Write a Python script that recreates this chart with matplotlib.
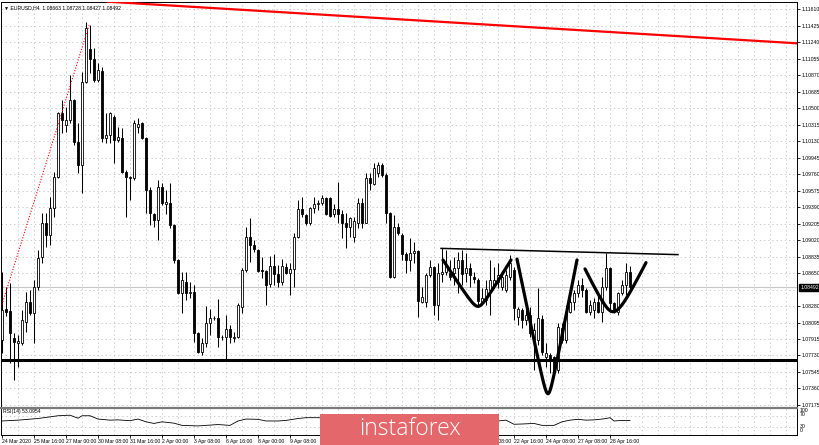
import matplotlib
matplotlib.use('Agg')
import matplotlib.pyplot as plt
import matplotlib.transforms as mtransforms
from matplotlib import font_manager
from matplotlib.patches import Rectangle
import numpy as np

installed = {f.name for f in font_manager.fontManager.ttflist}
small = 'Liberation Sans Narrow' if 'Liberation Sans Narrow' in installed else 'Liberation Sans'
plt.rcParams['font.family'] = [small, 'DejaVu Sans']

# EURUSD H4 candles (first bar 24 Mar 2020 08:00)
opens = [1.0790, 1.0825, 1.0823, 1.0793, 1.0787, 1.0787, 1.0810, 1.0833, 1.0820, 1.0850,
         1.0883, 1.0921, 1.0908, 1.0938, 1.0973, 1.1045, 1.1031, 1.1037, 1.1059, 1.1012,
         1.0986, 1.1079, 1.1117, 1.1105, 1.1082, 1.1092, 1.1017, 1.1020, 1.1040, 1.1014,
         1.1017, 1.0979, 1.0972, 1.0972, 1.1029, 1.1034, 1.1017, 1.0958, 1.0931, 1.0925,
         1.0962, 1.0943, 1.0944, 1.0919, 1.0880, 1.0843, 1.0855, 1.0843, 1.0844, 1.0798,
         1.0777, 1.0787, 1.0809, 1.0815, 1.0815, 1.0794, 1.0794, 1.0803, 1.0793, 1.0794,
         1.0827, 1.0869, 1.0906, 1.0897, 1.0891, 1.0869, 1.0868, 1.0853, 1.0873, 1.0864,
         1.0855, 1.0872, 1.0865, 1.0870, 1.0906, 1.0937, 1.0930, 1.0922, 1.0938, 1.0943,
         1.0944, 1.0949, 1.0949, 1.0931, 1.0937, 1.0931, 1.0922, 1.0917, 1.0906, 1.0922,
         1.0944, 1.0922, 1.0972, 1.0965, 1.0977, 1.0986, 1.0975, 1.0933, 1.0861, 1.0917,
         1.0908, 1.0887, 1.0880, 1.0888, 1.0890, 1.0833, 1.0833, 1.0863, 1.0872, 1.0830,
         1.0864, 1.0866, 1.0865, 1.0865, 1.0871, 1.0880, 1.0865, 1.0871, 1.0861, 1.0858,
         1.0833, 1.0835, 1.0846, 1.0852, 1.0855, 1.0850, 1.0846, 1.0861, 1.0869, 1.0816,
         1.0824, 1.0813, 1.0818, 1.0790, 1.0790, 1.0814, 1.0771, 1.0774, 1.0771, 1.0757,
         1.0804, 1.0790, 1.0822, 1.0833, 1.0843, 1.0852, 1.0846, 1.0822, 1.0824, 1.0833,
         1.0822, 1.0850, 1.0871, 1.0832, 1.0822, 1.0843, 1.0852, 1.08663]
highs = [1.0867, 1.0850, 1.0854, 1.0798, 1.0796, 1.0824, 1.0844, 1.0846, 1.0858, 1.0891,
         1.0933, 1.0933, 1.0951, 1.0979, 1.1046, 1.1059, 1.1051, 1.1087, 1.1061, 1.1034,
         1.1091, 1.1147, 1.1143, 1.1118, 1.1101, 1.1096, 1.1045, 1.1046, 1.1042, 1.1029,
         1.1028, 1.0981, 1.0974, 1.1037, 1.1039, 1.1035, 1.1018, 1.0962, 1.0933, 1.0970,
         1.0966, 1.0958, 1.0966, 1.0920, 1.0881, 1.0866, 1.0866, 1.0855, 1.0852, 1.0799,
         1.0793, 1.0828, 1.0825, 1.0817, 1.0836, 1.0796, 1.0818, 1.0807, 1.0799, 1.0832,
         1.0871, 1.0917, 1.0927, 1.0902, 1.0892, 1.0883, 1.0869, 1.0884, 1.0887, 1.0874,
         1.0881, 1.0877, 1.0877, 1.0910, 1.0947, 1.0951, 1.0931, 1.0939, 1.0951, 1.0947,
         1.0953, 1.0951, 1.0951, 1.0943, 1.0967, 1.0936, 1.0933, 1.0928, 1.0928, 1.0949,
         1.0949, 1.0977, 1.0977, 1.0989, 1.0990, 1.0989, 1.0977, 1.0934, 1.0930, 1.0921,
         1.0910, 1.0889, 1.0905, 1.0900, 1.0891, 1.0850, 1.0865, 1.0880, 1.0873, 1.0877,
         1.0893, 1.0891, 1.0880, 1.0883, 1.0889, 1.0891, 1.0888, 1.0877, 1.0866, 1.0860,
         1.0849, 1.0858, 1.0880, 1.0872, 1.0877, 1.0865, 1.0869, 1.0886, 1.0872, 1.0827,
         1.0826, 1.0824, 1.0827, 1.0809, 1.0849, 1.0818, 1.0787, 1.0776, 1.0772, 1.0809,
         1.0809, 1.0830, 1.0837, 1.0846, 1.0858, 1.0860, 1.0849, 1.0835, 1.0837, 1.0841,
         1.0861, 1.0888, 1.0872, 1.0833, 1.0844, 1.0858, 1.0877, 1.08728]
lows = [1.0776, 1.0817, 1.0764, 1.0745, 1.0760, 1.0785, 1.0799, 1.0818, 1.0787, 1.0846,
        1.0877, 1.0894, 1.0897, 1.0928, 1.0972, 1.1022, 1.1024, 1.1034, 1.1009, 1.0977,
        1.0955, 1.1078, 1.1090, 1.1079, 1.1079, 1.1012, 1.1011, 1.1011, 1.0989, 1.1012,
        1.0977, 1.0928, 1.0947, 1.0970, 1.1022, 1.1016, 1.0933, 1.0919, 1.0917, 1.0902,
        1.0942, 1.0931, 1.0916, 1.0877, 1.0842, 1.0820, 1.0835, 1.0837, 1.0788, 1.0776,
        1.0774, 1.0782, 1.0796, 1.0813, 1.0782, 1.0790, 1.0769, 1.0787, 1.0788, 1.0793,
        1.0820, 1.0866, 1.0878, 1.0889, 1.0866, 1.0860, 1.0830, 1.0850, 1.0852, 1.0850,
        1.0852, 1.0864, 1.0841, 1.0850, 1.0905, 1.0928, 1.0919, 1.0919, 1.0933, 1.0936,
        1.0942, 1.0930, 1.0928, 1.0928, 1.0921, 1.0905, 1.0893, 1.0906, 1.0900, 1.0916,
        1.0916, 1.0921, 1.0958, 1.0964, 1.0973, 1.0973, 1.0921, 1.0860, 1.0860, 1.0908,
        1.0880, 1.0865, 1.0868, 1.0877, 1.0816, 1.0832, 1.0827, 1.0861, 1.0818, 1.0813,
        1.0855, 1.0863, 1.0858, 1.0852, 1.0843, 1.0852, 1.0855, 1.0850, 1.0854, 1.0827,
        1.0832, 1.0830, 1.0818, 1.0849, 1.0849, 1.0846, 1.0844, 1.0858, 1.0813, 1.0807,
        1.0804, 1.0807, 1.0794, 1.0757, 1.0785, 1.0774, 1.0760, 1.0753, 1.0755, 1.0753,
        1.0787, 1.0787, 1.0820, 1.0824, 1.0838, 1.0838, 1.0820, 1.0818, 1.0815, 1.0820,
        1.0810, 1.0846, 1.0822, 1.0820, 1.0818, 1.0841, 1.0841, 1.08427]
closes = [1.0824, 1.0822, 1.0798, 1.0788, 1.0789, 1.0813, 1.0833, 1.0820, 1.0850, 1.0882,
          1.0921, 1.0908, 1.0938, 1.0973, 1.1045, 1.1037, 1.1037, 1.1059, 1.1012, 1.0986,
          1.1079, 1.1140, 1.1105, 1.1082, 1.1093, 1.1017, 1.1020, 1.1045, 1.1014, 1.1018,
          1.0979, 1.0973, 1.0973, 1.1034, 1.1032, 1.1017, 1.0958, 1.0933, 1.0925, 1.0962,
          1.0944, 1.0945, 1.0919, 1.0880, 1.0843, 1.0858, 1.0843, 1.0844, 1.0798, 1.0777,
          1.0787, 1.0809, 1.0815, 1.0815, 1.0794, 1.0794, 1.0803, 1.0794, 1.0794, 1.0830,
          1.0869, 1.0906, 1.0897, 1.0892, 1.0868, 1.0868, 1.0852, 1.0873, 1.0864, 1.0855,
          1.0873, 1.0865, 1.0870, 1.0906, 1.0937, 1.0931, 1.0922, 1.0938, 1.0943, 1.0944,
          1.0949, 1.0931, 1.0929, 1.0937, 1.0931, 1.0922, 1.0917, 1.0927, 1.0924, 1.0944,
          1.0922, 1.0972, 1.0966, 1.0983, 1.0986, 1.0975, 1.0933, 1.0861, 1.0917, 1.0910,
          1.0887, 1.0880, 1.0888, 1.0890, 1.0834, 1.0839, 1.0863, 1.0872, 1.0830, 1.0865,
          1.0866, 1.0874, 1.0861, 1.0871, 1.0880, 1.0864, 1.0871, 1.0863, 1.0859, 1.0834,
          1.0837, 1.0847, 1.0858, 1.0858, 1.0863, 1.0861, 1.0863, 1.0877, 1.0826, 1.0825,
          1.0813, 1.0818, 1.0798, 1.0802, 1.0815, 1.0777, 1.0776, 1.0768, 1.0757, 1.0805,
          1.0790, 1.0822, 1.0833, 1.0843, 1.0852, 1.0846, 1.0822, 1.0830, 1.0833, 1.0822,
          1.0850, 1.0871, 1.0832, 1.0822, 1.0843, 1.0852, 1.0866, 1.08492]

# RSI(14) line, read at a sparse set of bars
rsi_bar = [0, 4, 9, 14, 17, 19, 20, 22, 24, 27, 29, 32, 34, 36, 38, 40, 43, 45, 49, 51,
           54, 57, 59, 61, 64, 66, 69, 71, 74, 76, 79, 82, 86, 90, 94, 98, 102, 106, 110, 114,
           118, 122, 124, 126, 128, 130, 133, 135, 138, 140, 142, 144, 146, 148, 150, 151, 152, 153, 155, 157]
rsi_val = [51, 54, 60, 70, 72, 61, 70, 70, 58, 54, 55, 52, 58, 48, 42, 48, 43, 35, 33, 35,
           38, 35, 51, 58, 57, 51, 51, 53, 60, 63, 63, 60, 55, 60, 66, 42, 45, 35, 48, 50,
           48, 47, 51, 54, 39, 40, 42, 35, 35, 48, 54, 57, 54, 55, 58, 60, 63, 51, 53, 53.1]

# one time label every 8 bars; the ones under the watermark are not visible
time_labels = ['24 Mar 2020', '25 Mar 16:00', '27 Mar 00:00', '30 Mar 08:00', '31 Mar 16:00',
               '2 Apr 00:00', '3 Apr 08:00', '6 Apr 16:00', '8 Apr 00:00', '9 Apr 08:00',
               '', '', '', '', '',
               '21 Apr 08:00', '22 Apr 16:00', '24 Apr 08:00', '27 Apr 08:00', '28 Apr 16:00']
price_ticks = [1.11610, 1.11425, 1.11240, 1.11055, 1.10870, 1.10685, 1.10500, 1.10315,
               1.10130, 1.09945, 1.09760, 1.09575, 1.09390, 1.09205, 1.09020, 1.08835,
               1.08650, 1.08280, 1.08095, 1.07915, 1.07730, 1.07545, 1.07360, 1.07175]
hidden_level = 1.08465
last_price = 1.08492

# drawn objects (bar index, price)
support = 1.07684
resistance = [(109.75, 1.0893), (169.0, 1.0886)]
red_trend = [(26.5, 1.11695), (198.75, 1.11229)]
red_dotted = [(0.0, 1.0830), (21.75, 1.1143)]
arcs = [((110.25, 1.0880), (119.0, 1.0828), (127.25, 1.0880), 0.15),
        ((128.75, 1.0881), (136.5, 1.0730), (143.75, 1.0880), 0.10),
        ((145.75, 1.0870), (152.75, 1.0822), (161.0, 1.0877), 0.30)]

W, H = 820, 445


def frac(x0, y0, x1, y1):
    return [x0 / W, 1 - y1 / H, (x1 - x0) / W, (y1 - y0) / H]


def arc_line(start, bottom, end, c, k=40):
    shape = lambda t: (np.sqrt(t ** 2 + c ** 2) - c) / (np.sqrt(1 + c ** 2) - c)
    t1 = np.linspace(1, 0, k)
    t2 = np.linspace(0, 1, k)
    xs = np.r_[bottom[0] + (start[0] - bottom[0]) * t1, bottom[0] + (end[0] - bottom[0]) * t2]
    ys = np.r_[bottom[1] + (start[1] - bottom[1]) * shape(t1), bottom[1] + (end[1] - bottom[1]) * shape(t2)]
    return xs, ys


fig = plt.figure(figsize=(8.2, 4.45), dpi=100)
ax = fig.add_axes(frac(1, 2, 797, 406))
ax_rsi = fig.add_axes(frac(1, 407.5, 797, 435))

o = np.array(opens); h = np.array(highs); l = np.array(lows); c = np.array(closes)
x = np.arange(len(c))
grid_kw = dict(color='#b9b9b9', lw=0.5, ls=(0, (2, 4)), zorder=0)
fs = 3.7

# grid
for p in price_ticks + [hidden_level]:
    ax.axhline(p, **grid_kw)
for i in range(4, 200, 4):
    ax.axvline(i, **grid_kw)
    ax_rsi.axvline(i, **grid_kw)
for lev in (70, 30):
    ax_rsi.axhline(lev, **grid_kw)

ax.axhline(last_price, color='#c8c8c8', lw=0.8, zorder=0.5)

# candles
ax.vlines(x, l, h, color='black', lw=0.75, zorder=2)
up = c >= o
ax.bar(x, np.maximum(np.abs(c - o), 0.00002), bottom=np.minimum(o, c), width=0.72,
       color=np.where(up, 'white', 'black'), edgecolor='black', linewidth=0.6, zorder=3)

# drawings
ax.axhline(support, color='black', lw=2.2, zorder=4)
ax.plot(*zip(*resistance), color='black', lw=1.1, zorder=4)
ax.plot(*zip(*red_trend), color='red', lw=1.6, zorder=4)
ax.plot(*zip(*red_dotted), color='red', lw=0.8, ls=(0, (1, 1.5)), zorder=4)
for s, b, e, cc in arcs:
    xs, ys = arc_line(s, b, e, cc)
    ax.plot(xs, ys, color='black', lw=2.3, solid_capstyle='round', zorder=5)

ax.set_xlim(-0.25, 198.75)
ax.set_ylim(1.07163, 1.11692)
ax.set_xticks([])
ax.yaxis.tick_right()
ax.set_yticks(price_ticks)
ax.set_yticklabels([f'{p:.5f}' for p in price_ticks])
ax.tick_params(axis='y', length=2, width=0.6, labelsize=fs, pad=1.2)
for s in ax.spines.values():
    s.set_linewidth(0.7)
ax.spines['bottom'].set_visible(False)

ax.text(0.004, 0.993, '\u25bc EURUSD,H4  1.08663 1.08728 1.08427 1.08492',
        transform=ax.transAxes, fontsize=fs, va='top', ha='left')
trans = mtransforms.blended_transform_factory(ax.transAxes, ax.transData)
ax.text(1.004, last_price, '1.08492', transform=trans, color='white', fontsize=fs,
        va='center', ha='left', clip_on=False,
        bbox=dict(boxstyle='square,pad=0.2', fc='black', ec='black'))

# RSI window
ax_rsi.plot(rsi_bar, rsi_val, color='black', lw=0.6)
ax_rsi.set_xlim(-0.25, 198.75)
ax_rsi.set_ylim(0, 100)
ax_rsi.set_yticks([])
ax_rsi.set_xticks(np.arange(len(time_labels)) * 8)
ax_rsi.set_xticklabels(time_labels, ha='left')
ax_rsi.tick_params(axis='x', length=2, width=0.6, labelsize=fs, pad=1)
for s in ax_rsi.spines.values():
    s.set_linewidth(0.7)
ax_rsi.spines['top'].set_color('#7a7a7a')
ax_rsi.spines['top'].set_linewidth(1.6)
ax_rsi.text(0.003, 0.93, 'RSI(14) 53.0954', transform=ax_rsi.transAxes, fontsize=fs, va='top')
for lab, ypx in (('100', 410), ('70', 414.5), ('30', 426.5), ('0', 430.5)):
    fig.text(800 / W, 1 - ypx / H, lab, fontsize=fs, va='center', ha='left')

# watermark
fig.patches.append(Rectangle((320 / W, 0), 179 / W, 31 / H, transform=fig.transFigure,
                             facecolor='#e4686b', edgecolor='none', zorder=10))
fig.text(410 / W, 1 - 429 / H, 'instaforex', color='white', fontsize=16.5,
         family=['Open Sans', 'DejaVu Sans'], weight='light', ha='center', va='center', zorder=11)

fig.savefig('out.png', dpi=100)
